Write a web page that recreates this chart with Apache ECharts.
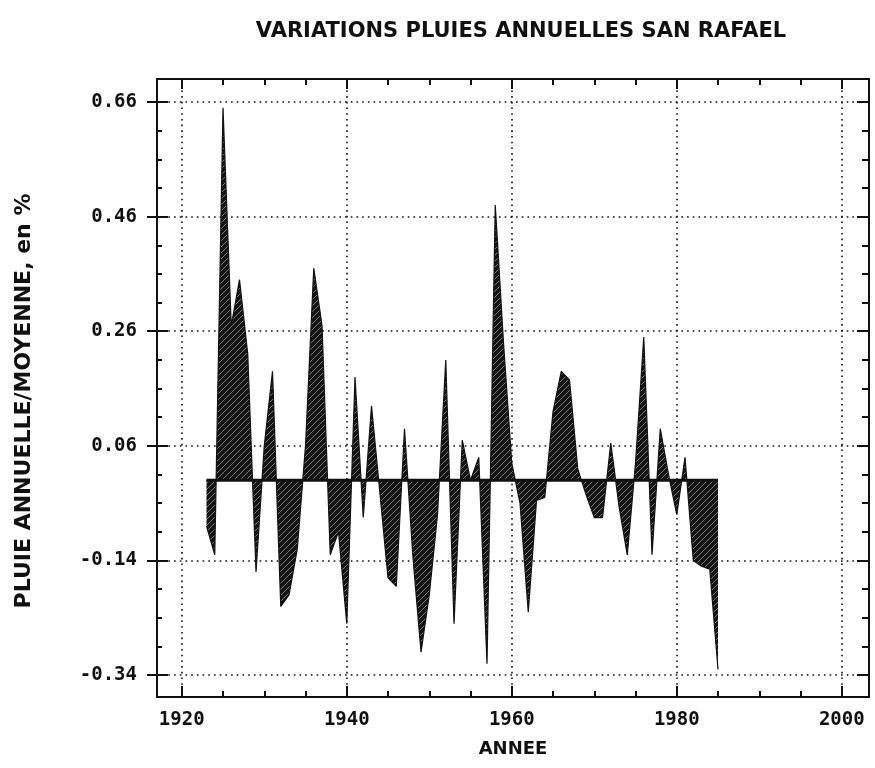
<!DOCTYPE html>
<html>
<head>
<meta charset="utf-8">
<title>Variations pluies annuelles San Rafael</title>
<script src="https://cdn.jsdelivr.net/npm/echarts@6/dist/echarts.min.js"></script>
<style>
  html, body { margin: 0; padding: 0; background: #fff; }
  #chart { width: 875px; height: 768px; }
</style>
</head>
<body>
<div id="chart"></div>
<script>
// Années de relevé
const years = [
  1923, 1924, 1925, 1926, 1927, 1928, 1929, 1930, 1931, 1932,
  1933, 1934, 1935, 1936, 1937, 1938, 1939, 1940, 1941, 1942,
  1943, 1944, 1945, 1946, 1947, 1948, 1949, 1950, 1951, 1952,
  1953, 1954, 1955, 1956, 1957, 1958, 1959, 1960, 1961, 1962,
  1963, 1964, 1965, 1966, 1967, 1968, 1969, 1970, 1971, 1972,
  1973, 1974, 1975, 1976, 1977, 1978, 1979, 1980, 1981, 1982,
  1983, 1984, 1985
];

// Écart relatif pluie annuelle / moyenne
const ecart = [
  -0.08, -0.13, 0.65, 0.27, 0.35, 0.22, -0.16, 0.06, 0.19, -0.22,
  -0.20, -0.12, 0.06, 0.37, 0.27, -0.13, -0.09, -0.25, 0.18, -0.065,
  0.13, -0.02, -0.17, -0.185, 0.09, -0.13, -0.30, -0.20, -0.06, 0.21,
  -0.25, 0.07, 0.00, 0.04, -0.32, 0.48, 0.24, 0.03, -0.04, -0.23,
  -0.035, -0.03, 0.12, 0.19, 0.175, 0.02, -0.025, -0.065, -0.065, 0.065,
  -0.045, -0.13, 0.03, 0.25, -0.13, 0.09, 0.01, -0.06, 0.04, -0.14,
  -0.15, -0.155, -0.33
];

// Graduations
const yMajor = [-0.34, -0.14, 0.06, 0.26, 0.46, 0.66];
const yMinor = [-0.34, -0.29, -0.24, -0.19, -0.14, -0.09, -0.04, 0.01, 0.06, 0.11,
                0.16, 0.21, 0.26, 0.31, 0.36, 0.41, 0.46, 0.51, 0.56, 0.61, 0.66];
const xMajor = [1920, 1940, 1960, 1980, 2000];
const xMinor = [1920, 1925, 1930, 1935, 1940, 1945, 1950, 1955, 1960, 1965,
                1970, 1975, 1980, 1985, 1990, 1995, 2000];

const xRange = { min: 1917, max: 2003.3 };
const yRange = { min: -0.378, max: 0.70 };

// Hachures du remplissage
function hatch() {
  const c = document.createElement('canvas');
  c.width = 6; c.height = 6;
  const g = c.getContext('2d');
  g.fillStyle = '#141414';
  g.fillRect(0, 0, 6, 6);
  g.strokeStyle = '#7a7a7a';
  g.lineWidth = 1;
  g.beginPath();
  g.moveTo(-1, 7); g.lineTo(7, -1);
  g.stroke();
  return c;
}

const ink = '#111';
const monoLabel = { fontFamily: 'DejaVu Sans Mono', fontWeight: 'bold', fontSize: 19, color: ink };
const dotted = { color: ink, width: 1.6, type: [1.6, 4.1] };

function xAxisDef(position, ticks, len, opts) {
  return Object.assign({
    type: 'value', position: position, min: xRange.min, max: xRange.max,
    axisLine: { show: false, onZero: false },
    axisTick: { show: true, inside: true, length: len, customValues: ticks, lineStyle: { color: ink, width: 2 } },
    axisLabel: { show: false },
    splitLine: { show: false }
  }, opts || {});
}
function yAxisDef(position, ticks, len, inside, opts) {
  return Object.assign({
    type: 'value', position: position, min: yRange.min, max: yRange.max,
    axisLine: { show: false, onZero: false },
    axisTick: { show: true, inside: inside, length: len, customValues: ticks, lineStyle: { color: ink, width: 2 } },
    axisLabel: { show: false },
    splitLine: { show: false }
  }, opts || {});
}

const chart = echarts.init(document.getElementById('chart'));
chart.setOption({
  animation: false,
  backgroundColor: '#fff',
  title: {
    text: 'VARIATIONS PLUIES ANNUELLES SAN RAFAEL',
    left: 516, top: 16, textAlign: 'center',
    textStyle: { fontFamily: 'DejaVu Sans', fontWeight: 'bold', fontSize: 21, color: ink }
  },
  grid: { left: 157, right: 6, top: 79, bottom: 71, containLabel: false },
  xAxis: [
    xAxisDef('bottom', xMajor, 11, {
      axisLine: { show: true, onZero: false, lineStyle: { color: ink, width: 2 } },
      axisLabel: { show: true, customValues: xMajor, margin: 14, formatter: v => String(v), ...monoLabel },
      splitLine: { show: true, lineStyle: dotted },
      name: 'ANNEE', nameLocation: 'middle', nameGap: 43,
      nameTextStyle: { fontFamily: 'DejaVu Sans', fontWeight: 'bold', fontSize: 18, color: ink }
    }),
    xAxisDef('bottom', xMinor, 6),
    xAxisDef('top', xMajor, 10, {
      axisLine: { show: true, onZero: false, lineStyle: { color: ink, width: 2 } }
    }),
    xAxisDef('top', xMinor, 6)
  ],
  yAxis: [
    yAxisDef('left', yMajor, 10, false, {
      axisLine: { show: true, onZero: false, lineStyle: { color: ink, width: 2 } },
      axisLabel: { show: true, customValues: yMajor, margin: 20, formatter: v => v.toFixed(2), ...monoLabel },
      splitLine: { show: true, lineStyle: dotted },
      name: 'PLUIE ANNUELLE/MOYENNE, en %', nameLocation: 'middle', nameGap: 122,
      nameTextStyle: { fontFamily: 'DejaVu Sans', fontWeight: 'bold', fontSize: 22, color: ink, padding: [0, 26, 0, 0] }
    }),
    yAxisDef('left', yMajor, 11, true),
    yAxisDef('left', yMinor, 5, true),
    yAxisDef('right', yMajor, 12, true, {
      axisLine: { show: true, onZero: false, lineStyle: { color: ink, width: 2 } }
    }),
    yAxisDef('right', yMinor, 7, true)
  ],
  series: [
    {
      type: 'line',
      xAxisIndex: 0, yAxisIndex: 0,
      data: years.map((y, i) => [y, ecart[i]]),
      symbol: 'none',
      lineStyle: { color: ink, width: 1.2 },
      areaStyle: { origin: 0, color: { image: hatch(), repeat: 'repeat' }, opacity: 1 },
      z: 3
    },
    {
      // ligne de référence (moyenne)
      type: 'line',
      xAxisIndex: 0, yAxisIndex: 0,
      data: [[years[0], 0], [years[years.length - 1], 0]],
      symbol: 'none',
      lineStyle: { color: ink, width: 3 },
      z: 4
    }
  ]
});
</script>
</body>
</html>
